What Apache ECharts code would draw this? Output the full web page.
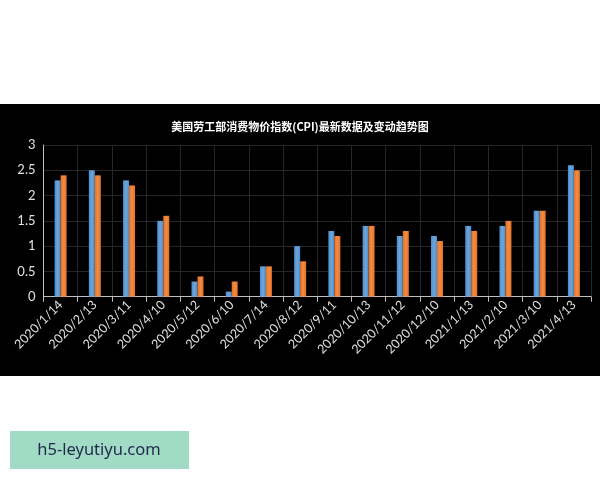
<!DOCTYPE html>
<html><head><meta charset="utf-8">
<script src="https://cdn.jsdelivr.net/npm/echarts@6/dist/echarts.min.js"></script>
<style>html,body{margin:0;padding:0;background:#fff}#c{width:600px;height:480px}</style>
</head><body><div id="c"></div>
<script>
const categories = ['2020/1/14','2020/2/13','2020/3/11','2020/4/10','2020/5/12','2020/6/10','2020/7/14','2020/8/12','2020/9/11','2020/10/13','2020/11/12','2020/12/10','2021/1/13','2021/2/10','2021/3/10','2021/4/13'];
const seriesA = [2.3,2.5,2.3,1.5,0.3,0.1,0.6,1.0,1.3,1.4,1.2,1.2,1.4,1.4,1.7,2.6];
const seriesB = [2.4,2.4,2.2,1.6,0.4,0.3,0.6,0.7,1.2,1.4,1.3,1.1,1.3,1.5,1.7,2.5];
const yTicks = [0,0.5,1,1.5,2,2.5,3];
const titleText = '美国劳工部消费物价指数(CPI)最新数据及变动趋势图';
const watermark = 'h5-leyutiyu.com';

const chart = echarts.init(document.getElementById('c'));
const font = 'Lato, "Noto Sans CJK SC", sans-serif';
chart.setOption({
  backgroundColor: 'transparent',
  animation: false,
  graphic: [
    {type:'rect', z:-10, shape:{x:0,y:104,width:600,height:272}, style:{fill:'#000'}},
    {type:'rect', shape:{x:10,y:431,width:179,height:38}, style:{fill:'#a1dac5'}},
    {type:'text', x:99, y:450, style:{text:watermark, fill:'#1e2a4a', font:'16.5px "Noto Sans", sans-serif', textAlign:'center', textVerticalAlign:'middle'}}
  ],
  title: {
    text: titleText, left: 'center', top: 116,
    textStyle: {color:'#fff', fontSize:11, fontWeight:'bold', fontFamily:'"Noto Sans CJK SC", sans-serif'}
  },
  grid: {left:43.5, right:9, top:145, bottom:183.3, containLabel:false},
  xAxis: {
    type:'category', data: categories,
    axisLine:{lineStyle:{color:'#bfbfbf', width:1}},
    axisTick:{show:true, length:5, lineStyle:{color:'#bfbfbf'}},
    axisLabel:{rotate:45, color:'#e0e0e0', fontSize:12.5, fontFamily:font, margin:6, interval:0},
    splitLine:{show:true, lineStyle:{color:'#262626', width:1}}
  },
  yAxis: {
    type:'value', min:0, max:3, interval:0.5,
    axisLine:{show:true, lineStyle:{color:'#bfbfbf'}},
    axisTick:{show:false},
    axisLabel:{color:'#e0e0e0', fontSize:13, fontFamily:font, margin:8,
      formatter: v => { const t = yTicks.find(x => Math.abs(x - v) < 1e-9); return t === undefined ? '' : String(t); }},
    splitLine:{show:true, lineStyle:{color:'#262626', width:1}}
  },
  series: [
    {type:'bar', data: seriesA, barWidth:6, barGap:'0%',
     itemStyle:{color:new echarts.graphic.LinearGradient(0,0,1,0,[{offset:0,color:'#4f8cc9'},{offset:0.5,color:'#6aa7df'},{offset:1,color:'#4f8cc9'}])}},
    {type:'bar', data: seriesB, barWidth:6,
     itemStyle:{color:new echarts.graphic.LinearGradient(0,0,1,0,[{offset:0,color:'#e0722a'},{offset:0.5,color:'#f58a40'},{offset:1,color:'#e0722a'}])}}
  ]
});
</script></body></html>
